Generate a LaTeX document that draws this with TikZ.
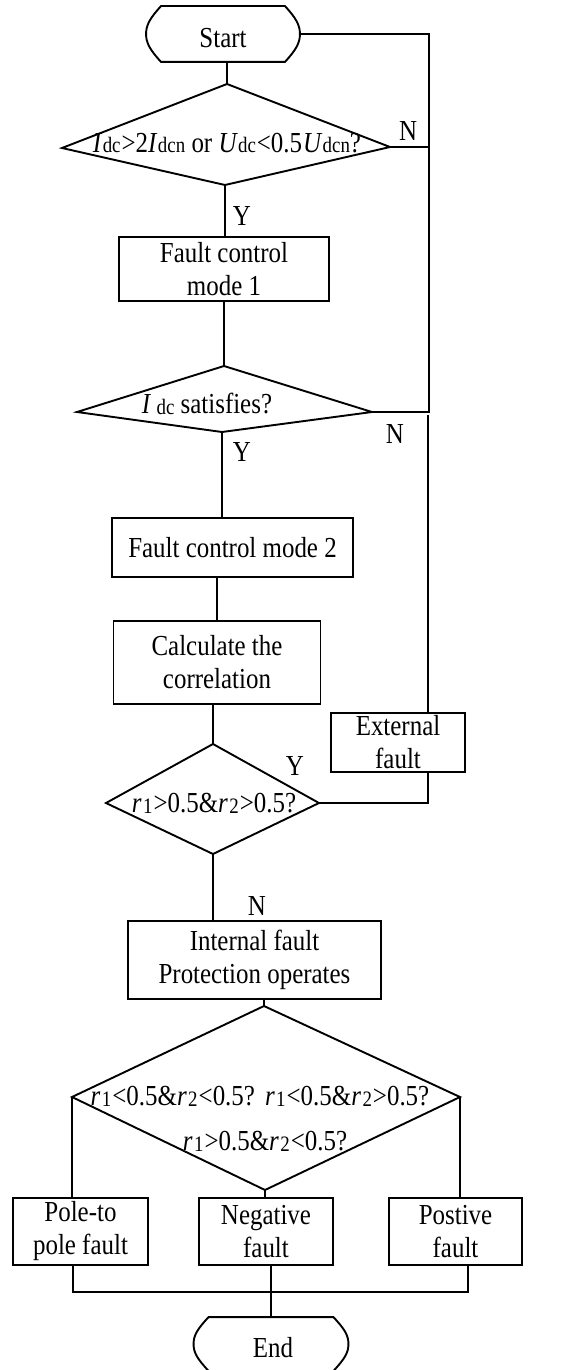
\documentclass[tikz,border=0pt]{standalone}
\usepackage{fontspec}
\setmainfont{Liberation Serif}[FakeStretch=0.86]
\usetikzlibrary{calc}
\newcommand\sbx[1]{\kern1.5pt\raisebox{-1pt}{\fontsize{22}{22}\selectfont #1}}
\newcommand\termshape[1]{%
  \draw ($(#1.north west)+(15,0)$) -- ($(#1.north east)+(-15,0)$)
   .. controls ($(#1.north east)+(-4,12)$) and ($(#1.east)+(0,-9)$) .. (#1.east)
   .. controls ($(#1.east)+(0,9)$) and ($(#1.south east)+(-4,-12)$) .. ($(#1.south east)+(-15,0)$)
   -- ($(#1.south west)+(15,0)$)
   .. controls ($(#1.south west)+(4,-12)$) and ($(#1.west)+(0,9)$) .. (#1.west)
   .. controls ($(#1.west)+(0,-9)$) and ($(#1.north west)+(4,12)$) .. cycle;}
\begin{document}
\begin{tikzpicture}[x=1pt,y=-1pt,line width=1.9pt,
  every node/.style={font=\fontsize{29}{33}\selectfont, inner sep=0pt},
  box/.style={draw, align=center},
  term/.style={inner sep=0pt},
  lbl/.style={anchor=base}]
\useasboundingbox (0,0) rectangle (588,1370);

% terminals
\node[term, minimum width=152pt, minimum height=54pt] (start) at (223,34) {};
\termshape{start}
\node[lbl] (startt) at (223,48) {Start};
\node[term, minimum width=153pt, minimum height=52pt] (end) at (271,1344) {};
\termshape{end}
\node[lbl] (endt) at (273,1357) {End};

% diamonds
\coordinate (d1t) at (227,84);  \coordinate (d1l) at (62,148);
\coordinate (d1r) at (390,147); \coordinate (d1b) at (225,185);
\draw (d1t) -- (d1r) -- (d1b) -- (d1l) -- cycle;
\node[lbl] (t1) at (227,152) {{\itshape I}\sbx{dc}\kern1pt>2{\itshape I}\sbx{dcn} or {\itshape U}\sbx{dc}\kern1pt<0.5\kern1pt{\itshape U}\sbx{dcn}?};

\coordinate (d2t) at (224,366); \coordinate (d2l) at (77,412);
\coordinate (d2r) at (372,412); \coordinate (d2b) at (222,432);
\draw (d2t) -- (d2r) -- (d2b) -- (d2l) -- cycle;
\node[lbl] (t2) at (207,413) {{\itshape I}\,\sbx{dc}\ satisfies?};

\coordinate (d3t) at (213,744); \coordinate (d3l) at (106,803);
\coordinate (d3r) at (319,803); \coordinate (d3b) at (213,854);
\draw (d3t) -- (d3r) -- (d3b) -- (d3l) -- cycle;
\node[lbl] (t3) at (214,812) {{\itshape r}\sbx{1}\kern1pt>0.5\&{\itshape r}\sbx{2}\kern1pt>0.5?};

\coordinate (d4t) at (264,1006); \coordinate (d4l) at (72,1097);
\coordinate (d4r) at (460,1097); \coordinate (d4b) at (265,1190);
\draw (d4t) -- (d4r) -- (d4b) -- (d4l) -- cycle;
\node[lbl] (t4a) at (260,1105) {{\itshape r}\sbx{1}\kern1pt<0.5\&{\itshape r}\sbx{2}\kern1pt<0.5?\hspace{10pt}{\itshape r}\sbx{1}\kern1pt<0.5\&{\itshape r}\sbx{2}\kern1pt>0.5?};
\node[lbl] (t4b) at (265,1150) {{\itshape r}\sbx{1}\kern1pt>0.5\&{\itshape r}\sbx{2}\kern1pt<0.5?};

% boxes
\node[box, minimum width=210pt, minimum height=64pt] (b1) at (224,269) {Fault control\\mode 1};
\node[box, minimum width=241pt, minimum height=59pt] (b2) at (232.5,547.5) {Fault control mode 2};
\node[box, minimum width=207pt, minimum height=83pt] (b3) at (217,662.5) {Calculate the\\correlation};
\node[box, minimum width=134pt, minimum height=59pt] (ext) at (398,742.5) {External\\fault};
\node[box, minimum width=253pt, minimum height=78pt] (intb) at (254.5,960) {Internal fault\\Protection operates};
\node[box, minimum width=135pt, minimum height=67pt] (pole) at (80.5,1231.5) {Pole-to\\pole fault};
\node[box, minimum width=134pt, minimum height=67pt] (neg) at (266,1231.5) {Negative\\fault};
\node[box, minimum width=133pt, minimum height=67pt] (pos) at (455.5,1231.5) {Postive\\fault};

% labels
\node[lbl] (y1) at (242,225) {Y};
\node[lbl] (n1) at (408,140) {N};
\node[lbl] (y2) at (242,461) {Y};
\node[lbl] (n2) at (395,443) {N};
\node[lbl] (y3) at (295,775) {Y};
\node[lbl] (n3) at (257,915) {N};

% connectors
\coordinate (c1) at (429,412);
\coordinate (c2) at (428,415);
\coordinate (busL) at (73,1292);
\coordinate (busR) at (468,1292);
\draw (d1t) -- (d1t |- start.south);
\draw (start.east) -| (c1) -- (d2r);
\draw (d1r) -- (d1r -| c1);
\draw (d1b) -- (d1b |- b1.north);
\draw (b1.south) -- (d2t);
\draw (d2b) -- (d2b |- b2.north);
\draw (b3.north) -- (b3.north |- b2.south);
\draw (d3t) -- (d3t |- b3.south);
\draw (c2) -- (c2 |- ext.north);
\draw (d3r) -| (c2 |- ext.south);
\draw (d3b) -- (d3b |- intb.north);
\draw (d4t) -- (d4t |- intb.south);
\draw (d4l) -- (d4l |- pole.north);
\draw (d4b) -- (d4b |- neg.north);
\draw (d4r) -- (d4r |- pos.north);
\draw (busL |- pole.south) -- (busL) -- (busR) -- (busR |- pos.south);
\draw (end.north) -- (end.north |- neg.south);
\end{tikzpicture}
\end{document}
